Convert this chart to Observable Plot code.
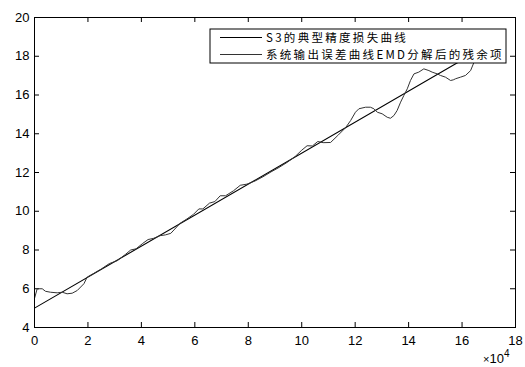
<!DOCTYPE html>
<html>
<head>
<meta charset="utf-8">
<script src="https://cdn.jsdelivr.net/npm/d3@7"></script>
<script src="https://cdn.jsdelivr.net/npm/@observablehq/plot@0.6"></script>
<style>
  html, body { margin: 0; padding: 0; background: #fff; }
  #chart svg { display: block; }
</style>
</head>
<body>
<div id="chart"></div>
<script>
// Axis ticks
const xTicks = [0, 20000, 40000, 60000, 80000, 100000, 120000, 140000, 160000, 180000];
const yTicks = [4, 6, 8, 10, 12, 14, 16, 18, 20];

// Legend entries
const seriesNames = ["S3的典型精度损失曲线", "系统输出误差曲线EMD分解后的残余项"];

// S3 typical precision-loss curve (straight trend)
const trendX = [0, 166000];
const trendY = [5.0, 18.28];

// Residual term of the system output error after EMD
const residX = [
  0, 1000, 2900, 4100, 6000, 8500, 10400, 12200, 14100, 16000, 18500, 19700,
  22000, 25000, 28000, 31000, 34000, 36000, 38000, 40500, 42500, 44500, 47000,
  49000, 51000, 52500, 54500, 57000, 59500, 61500, 63000, 65500, 67500, 69500,
  71500, 74500, 77000, 79500, 82500, 85500, 88500, 91500, 94500, 97500, 100000,
  102000, 104000, 106000, 108000, 110800, 113500, 116400, 118300, 120100, 121400,
  123900, 125700, 127000, 128300, 130100, 132000, 133200, 134500, 135700, 137000,
  138200, 139500, 140700, 142000, 143800, 145700, 147600, 148800, 150700, 151900,
  153800, 155700, 156700, 157600, 159400, 161300, 163200, 164500, 166000
];
const residY = [
  5.5, 6.0, 6.0, 5.87, 5.82, 5.79, 5.82, 5.74, 5.77, 5.91, 6.26, 6.6,
  6.78, 7.02, 7.30, 7.45, 7.77, 8.0, 8.06, 8.34, 8.54, 8.60, 8.74,
  8.78, 8.86, 9.08, 9.38, 9.60, 9.84, 10.12, 10.12, 10.42, 10.50, 10.80,
  10.80, 11.06, 11.34, 11.40, 11.56, 11.78, 12.03, 12.26, 12.52, 12.82, 13.15,
  13.38, 13.37, 13.60, 13.54, 13.55, 13.91, 14.31, 14.68, 15.11, 15.29,
  15.37, 15.37, 15.29, 15.11, 15.03, 14.85, 14.80, 14.94, 15.20, 15.63,
  15.97, 16.32, 16.75, 17.09, 17.18, 17.35, 17.26, 17.18, 17.09, 17.01,
  16.92, 16.75, 16.78, 16.84, 16.92, 17.01, 17.26, 17.7, 17.85
];

const trend = trendX.map((x, i) => ({x, y: trendY[i]}));
const resid = residX.map((x, i) => ({x, y: residY[i]}));

const W = 525, H = 367;
const M = {top: 17, right: 10, bottom: 40, left: 34};
const innerH = H - M.top - M.bottom;
const innerW = W - M.left - M.right;
const tickLen = 5;

const latinFont = "'Liberation Sans', Arial, Helvetica, sans-serif";
const cjkFont = "'Noto Sans CJK SC', 'Liberation Sans', sans-serif";

// Legend box in the upper right corner of the frame
function legend(index, scales, values, dims) {
  const right = dims.width - dims.marginRight - 9;
  const top = dims.marginTop + 12;
  const w = 296, h = 34;
  const left = right - w;
  const g = d3.create("svg:g");
  g.append("rect")
    .attr("x", left).attr("y", top).attr("width", w).attr("height", h)
    .attr("fill", "#fff").attr("stroke", "#000").attr("stroke-width", 1);
  const strokes = ["#000", "#333"];
  seriesNames.forEach((name, i) => {
    const cy = top + 8.5 + i * 17;
    g.append("line")
      .attr("x1", left + 10).attr("x2", left + 52)
      .attr("y1", cy).attr("y2", cy)
      .attr("stroke", strokes[i]).attr("stroke-width", 1);
    g.append("text")
      .attr("x", left + 56).attr("y", cy)
      .attr("dy", "0.36em")
      .attr("text-anchor", "start")
      .attr("font-family", cjkFont)
      .attr("font-size", 11.5)
      .attr("letter-spacing", 2.3)
      .attr("fill", "#000")
      .text(name);
  });
  return g.node();
}

// x-axis exponent label
function exponent(index, scales, values, dims) {
  const g = d3.create("svg:g");
  const t = g.append("text")
    .attr("x", dims.width - 42).attr("y", dims.height - 4)
    .attr("text-anchor", "start")
    .attr("font-family", latinFont).attr("font-size", 13).attr("fill", "#000");
  t.append("tspan").attr("font-size", 11).text("×");
  t.append("tspan").text("10");
  t.append("tspan").attr("font-size", 10).attr("dy", -6).text("4");
  return g.node();
}

const chart = Plot.plot({
  width: W,
  height: H,
  marginTop: M.top,
  marginRight: M.right,
  marginBottom: M.bottom,
  marginLeft: M.left,
  style: {background: "#fff", color: "#000", fontFamily: latinFont, fontSize: "13px"},
  x: {
    domain: [0, 180000],
    ticks: xTicks,
    tickFormat: d => String(d / 10000),
    tickSize: 0,
    tickPadding: 8,
    label: null
  },
  y: {
    domain: [4, 20],
    ticks: yTicks,
    tickFormat: d => String(d),
    tickSize: 0,
    tickPadding: 5,
    label: null
  },
  marks: [
    // inward tick marks on all four sides
    Plot.tickX(xTicks, {x: d => d, insetTop: innerH - tickLen, stroke: "#000"}),
    Plot.tickX(xTicks, {x: d => d, insetBottom: innerH - tickLen, stroke: "#000"}),
    Plot.tickY(yTicks, {y: d => d, insetRight: innerW - tickLen, stroke: "#000"}),
    Plot.tickY(yTicks, {y: d => d, insetLeft: innerW - tickLen, stroke: "#000"}),
    Plot.line(trend, {x: "x", y: "y", stroke: "#000", strokeWidth: 1.1}),
    Plot.line(resid, {x: "x", y: "y", stroke: "#333", strokeWidth: 1, curve: "linear"}),
    Plot.frame({stroke: "#000", strokeWidth: 1}),
    legend,
    exponent
  ]
});

document.getElementById("chart").appendChild(chart);
</script>
</body>
</html>
